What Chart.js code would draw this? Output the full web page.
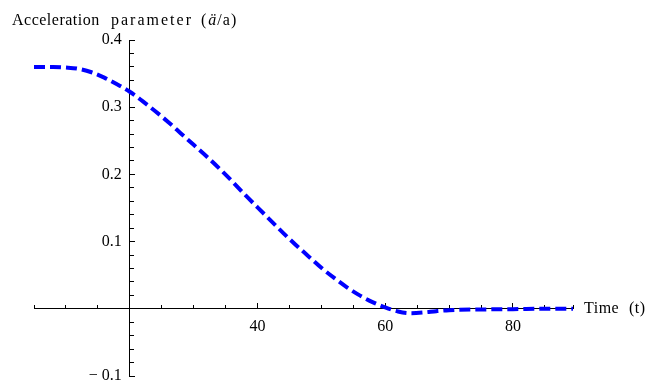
<!DOCTYPE html>
<html>
<head>
<meta charset="utf-8">
<script src="https://cdn.jsdelivr.net/npm/chart.js@4.4.1/dist/chart.umd.min.js"></script>
<style>
  html, body { margin: 0; padding: 0; background: #fff; }
  canvas { display: block; }
</style>
</head>
<body>
<canvas id="accelChart" width="657" height="383"></canvas>
<script>
// data
const timeVals = [5, 8, 10, 12, 14, 16, 18, 20, 22, 24, 26, 28, 30, 32, 34, 36, 38, 40, 42, 44,
    46, 48, 50, 52, 54, 56, 58, 60, 62, 64, 66, 68, 70, 75, 80, 85, 89.4];
const accelVals = [0.360, 0.360, 0.359, 0.357, 0.352, 0.344, 0.334, 0.323, 0.309, 0.294, 0.278,
    0.261, 0.244, 0.227, 0.209, 0.190, 0.170, 0.151, 0.132, 0.113, 0.095, 0.078, 0.061, 0.046,
    0.032, 0.020, 0.010, 0.002, -0.004, -0.0065, -0.0055, -0.0035, -0.002, -0.001, -0.0005, 0, 0];

const xMin = 5, xMax = 89.4;
const yMin = -0.1, yMax = 0.4;
const xMajorTicks = [40, 60, 80];
const xTickLabels = ['40', '60', '80'];
const yMajorTicks = [-0.1, 0, 0.1, 0.2, 0.3, 0.4];
const yTickLabels = ['\u2212 0.1', '', '0.1', '0.2', '0.3', '0.4'];

const xMinorTicks = [];
for (let v = 5; v <= 85; v += 5) xMinorTicks.push(v);
xMinorTicks.push(xMax);
const yMinorTicks = [];
for (let i = -5; i <= 20; i++) yMinorTicks.push(i / 50);

const serif = '"Liberation Serif", "DejaVu Serif", serif';

// axes sit inside the plot, so their label overhang must not shrink the area
const noPad = (s) => {
    s.paddingTop = 0;
    s.paddingBottom = 0;
    s.paddingLeft = 0;
    s.paddingRight = 0;
};

// axis captions drawn on top
const captions = {
    id: 'captions',
    afterDraw(chart) {
        const ctx = chart.ctx;
        ctx.save();
        ctx.fillStyle = '#000';
        ctx.textBaseline = 'alphabetic';
        ctx.font = '16px ' + serif;
        ctx.letterSpacing = '0.5px';
        ctx.fillText('Acceleration', 12, 25);
        ctx.letterSpacing = '2px';
        ctx.fillText('parameter', 111, 25);
        ctx.letterSpacing = '1px';
        let x = 201;
        ctx.fillText('(', x, 25);
        x += ctx.measureText('(').width + 1;
        ctx.font = 'italic 16px ' + serif;
        ctx.fillText('\u00e4', x, 25);
        x += ctx.measureText('\u00e4').width;
        ctx.font = '16px ' + serif;
        ctx.fillText('/a)', x, 25);

        ctx.letterSpacing = '0.5px';
        ctx.fillText('Time', 584, 313);
        ctx.fillText('(t)', 629, 313);
        ctx.restore();
    }
};

const ctx = document.getElementById('accelChart').getContext('2d');
new Chart(ctx, {
    type: 'line',
    data: {
        datasets: [{
            data: timeVals.map((t, i) => ({ x: t, y: accelVals[i] })),
            borderColor: '#0000ff',
            borderWidth: 4,
            borderDash: [11, 5],
            pointRadius: 0,
            cubicInterpolationMode: 'monotone',
            fill: false
        }]
    },
    options: {
        responsive: false,
        animation: false,
        layout: { padding: { left: 34, right: 84, top: 40, bottom: 7 } },
        plugins: {
            legend: { display: false },
            tooltip: { enabled: false }
        },
        scales: {
            x: {
                type: 'linear',
                min: xMin,
                max: xMax,
                position: { y: 0 },
                afterBuildTicks: (s) => { s.ticks = xMajorTicks.map(v => ({ value: v })); },
                afterFit: noPad,
                ticks: {
                    callback: (v) => xTickLabels[xMajorTicks.indexOf(v)] ?? '',
                    color: '#000',
                    font: { family: serif, size: 16 },
                    padding: 14,
                    maxRotation: 0,
                    autoSkip: false
                },
                grid: { drawOnChartArea: false, tickLength: -6, color: '#000' },
                border: { display: true, color: '#000', width: 1 }
            },
            xm: {
                type: 'linear',
                axis: 'x',
                min: xMin,
                max: xMax,
                position: { y: 0 },
                afterBuildTicks: (s) => { s.ticks = xMinorTicks.map(v => ({ value: v })); },
                afterFit: noPad,
                ticks: { display: false },
                grid: { drawOnChartArea: false, tickLength: -4, color: '#000' },
                border: { display: false }
            },
            y: {
                type: 'linear',
                min: yMin,
                max: yMax,
                position: { x: 20 },
                afterBuildTicks: (s) => { s.ticks = yMajorTicks.map(v => ({ value: v })); },
                afterFit: noPad,
                ticks: {
                    // en space keeps the label clear of the axis line
                    callback: (v) => (yTickLabels[yMajorTicks.indexOf(v)] ?? '') + '\u2002',
                    color: '#000',
                    font: { family: serif, size: 16 },
                    autoSkip: false
                },
                grid: { drawOnChartArea: false, tickLength: -6, color: '#000' },
                border: { display: true, color: '#000', width: 1 }
            },
            ym: {
                type: 'linear',
                axis: 'y',
                min: yMin,
                max: yMax,
                position: { x: 20 },
                afterBuildTicks: (s) => { s.ticks = yMinorTicks.map(v => ({ value: v })); },
                afterFit: noPad,
                ticks: { display: false },
                grid: { drawOnChartArea: false, tickLength: -4, color: '#000' },
                border: { display: false }
            }
        }
    },
    plugins: [captions]
});
</script>
</body>
</html>
